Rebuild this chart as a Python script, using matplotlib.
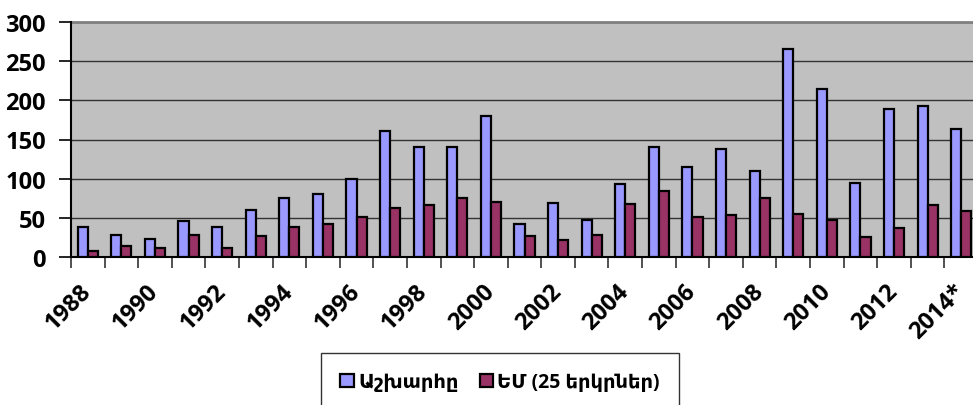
import matplotlib
matplotlib.use("Agg")
import matplotlib.pyplot as plt
import numpy as np

# data
years = [str(y) for y in range(1988, 2014)] + ["2014*"]
world = [38, 28, 23, 46, 38, 60, 76, 80, 100, 161, 140, 140, 180,
         43, 69, 47, 93, 140, 115, 138, 110, 265, 214, 94, 189, 193, 163]
eu = [8, 14, 12, 28, 12, 27, 39, 43, 51, 63, 66, 75, 70,
      27, 22, 29, 68, 84, 51, 54, 75, 55, 47, 26, 37, 67, 59]
legend_labels = ["Աշխարհը", "ԵՄ (25 երկրներ)"]

plt.rcParams['font.family'] = ['Open Sans', 'DejaVu Sans Condensed', 'DejaVu Sans']
plt.rcParams['font.weight'] = 'bold'

fig = plt.figure(figsize=(9.73, 4.06), dpi=100)
ax = fig.add_axes([71 / 973, 1 - 258.3 / 406, 907 / 973, (258.3 - 22.7) / 406])
ax.set_facecolor('#C0C0C0')

x = np.arange(len(years))
w = 0.3
b1 = ax.bar(x - w / 2, world, w, color='#9999FF', edgecolor='black', linewidth=1.6,
            label=legend_labels[0], zorder=3)
b2 = ax.bar(x + w / 2, eu, w, color='#993366', edgecolor='black', linewidth=1.6,
            label=legend_labels[1], zorder=3)

ax.set_xlim(-0.5, len(years) - 0.5)
ax.set_ylim(0, 300)
ax.set_yticks(range(0, 301, 50))
ax.yaxis.grid(True, color='#333333', linewidth=1.0, zorder=0)
ax.set_axisbelow(True)
ax.tick_params(axis='y', labelsize=17, length=9, width=1.2, pad=9)

# category labels every other year, tick marks on category boundaries
ax.set_xticks(x[::2])
ax.set_xticklabels(years[::2], rotation=45, ha='right', va='center',
                   rotation_mode='anchor', fontsize=17)
ax.tick_params(axis='x', which='major', length=0, pad=22)
ax.set_xticks(np.arange(-0.5, len(years), 1), minor=True)
ax.tick_params(axis='x', which='minor', length=8, width=1.2, color='#333333')

for s in ['top', 'right']:
    ax.spines[s].set_visible(False)
ax.spines['left'].set_linewidth(1.5)
ax.spines['bottom'].set_linewidth(1.5)
ax.axhline(300, color='#808080', linewidth=2, zorder=1, clip_on=False)

leg = fig.legend(handles=[b1, b2], loc='upper left',
                 bbox_to_anchor=(321 / 973, 1 - 354 / 406), ncol=2,
                 frameon=True, fancybox=False, fontsize=14,
                 handlelength=0.7, handleheight=0.7, handletextpad=0.2,
                 columnspacing=1.1, borderpad=1.0, borderaxespad=0)
leg.get_frame().set_edgecolor('black')
leg.get_frame().set_linewidth(1.0)

fig.savefig('out.png', dpi=100)
